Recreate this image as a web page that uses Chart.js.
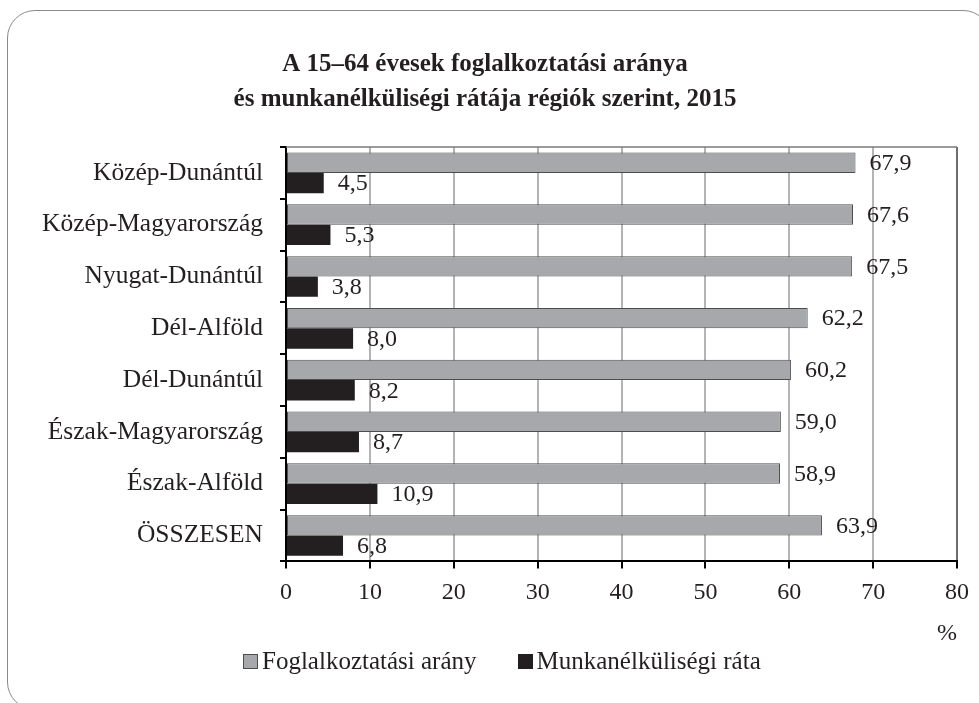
<!DOCTYPE html>
<html>
<head>
<meta charset="utf-8">
<script src="https://cdn.jsdelivr.net/npm/chart.js@4"></script>
<style>
  html, body { margin: 0; padding: 0; background: #fff; overflow: hidden; }
  #wrap { position: relative; width: 979px; height: 703px; }
  #frame {
    position: absolute; left: 7px; top: 10px; width: 984px; height: 700px;
    border: 1.5px solid #8a8a8a; border-radius: 28px; box-sizing: border-box;
  }
  #box { position: absolute; left: 0; top: 0; width: 979px; height: 703px; }
  #legend {
    position: absolute; left: 243px; top: 647px; display: flex;
    font: 25px "Liberation Serif", serif; color: #231f20;
  }
  .item { display: flex; align-items: center; }
  .swatch { width: 15px; height: 15px; margin-right: 4px; box-sizing: border-box; }
</style>
</head>
<body>
<div id="wrap">
  <div id="frame"></div>
  <div id="box"><canvas id="chart"></canvas></div>
  <div id="legend"></div>
</div>
<script>
document.addEventListener("DOMContentLoaded", function () {
  // regions, top to bottom
  const regions = [
    'Közép-Dunántúl',
    'Közép-Magyarország',
    'Nyugat-Dunántúl',
    'Dél-Alföld',
    'Dél-Dunántúl',
    'Észak-Magyarország',
    'Észak-Alföld',
    'ÖSSZESEN'
  ];
  const employmentRate = [67.9, 67.6, 67.5, 62.2, 60.2, 59.0, 58.9, 63.9];
  const unemploymentRate = [4.5, 5.3, 3.8, 8.0, 8.2, 8.7, 10.9, 6.8];
  const seriesNames = ['Foglalkoztatási arány', 'Munkanélküliségi ráta'];
  const xTicks = [0, 10, 20, 30, 40, 50, 60, 70, 80];

  const serif = '"Liberation Serif", "Times New Roman", serif';
  const ink = '#231f20';
  const grayFill = '#a7a8ab';
  const grayEdge = '#4d4d4d';

  // value labels next to the bar ends, decimal comma
  const valueLabels = {
    id: 'valueLabels',
    afterDatasetsDraw(chart) {
      const ctx = chart.ctx;
      ctx.save();
      ctx.font = '24px ' + serif;
      ctx.fillStyle = ink;
      ctx.textAlign = 'left';
      ctx.textBaseline = 'middle';
      chart.data.datasets.forEach((ds, i) => {
        chart.getDatasetMeta(i).data.forEach((bar, j) => {
          const txt = ds.data[j].toFixed(1).replace('.', ',');
          ctx.fillText(txt, bar.x + 14, bar.y + 1);
        });
      });
      ctx.restore();
    }
  };

  // top edge of the plot frame
  const plotFrame = {
    id: 'plotFrame',
    beforeDatasetsDraw(chart) {
      const a = chart.chartArea;
      const ctx = chart.ctx;
      ctx.save();
      ctx.strokeStyle = '#7a7a7a';
      ctx.lineWidth = 1.5;
      ctx.beginPath();
      ctx.moveTo(a.left, a.top);
      ctx.lineTo(a.right, a.top);
      ctx.stroke();
      ctx.restore();
    }
  };

  const ctx = document.getElementById('chart').getContext('2d');
  new Chart(ctx, {
    type: 'bar',
    data: {
      labels: regions,
      datasets: [
        {
          label: seriesNames[0],
          data: employmentRate,
          backgroundColor: grayFill,
          borderColor: grayEdge,
          borderWidth: 1,
          borderSkipped: false,
          categoryPercentage: 0.785,
          barPercentage: 1
        },
        {
          label: seriesNames[1],
          data: unemploymentRate,
          backgroundColor: ink,
          borderWidth: 0,
          categoryPercentage: 0.785,
          barPercentage: 1
        }
      ]
    },
    options: {
      indexAxis: 'y',
      responsive: true,
      maintainAspectRatio: false,
      animation: false,
      layout: { padding: { left: 12, right: 21, top: 0, bottom: 55 } },
      plugins: {
        legend: { display: false },
        tooltip: { enabled: false },
        title: {
          display: true,
          text: ['A 15–64 évesek foglalkoztatási aránya', 'és munkanélküliségi rátája régiók szerint, 2015'],
          color: ink,
          font: { family: serif, size: 25, weight: 'bold', lineHeight: 1.4 },
          padding: { top: 47, bottom: 30 }
        }
      },
      scales: {
        x: {
          min: 0,
          max: 80,
          afterBuildTicks(scale) { scale.ticks = xTicks.map(v => ({ value: v })); },
          ticks: {
            color: ink,
            font: { family: serif, size: 24 },
            padding: 10
          },
          grid: {
            color: (c) => c.index === xTicks.length - 1 ? '#6e6e6e' : '#b4b4b4',
            lineWidth: 2,
            tickColor: '#000',
            tickLength: 7
          },
          border: { color: '#000', width: 2 },
          title: {
            display: true,
            text: '%',
            align: 'end',
            color: ink,
            font: { family: serif, size: 24 },
            padding: { top: 2, bottom: 0 }
          }
        },
        y: {
          afterFit(scale) { scale.width = 274; },
          ticks: {
            color: ink,
            font: { family: serif, size: 25.5 },
            padding: 17
          },
          grid: {
            drawOnChartArea: false,
            tickColor: '#000',
            tickLength: 6,
            lineWidth: 2
          },
          border: { color: '#000', width: 2 }
        }
      }
    },
    plugins: [plotFrame, valueLabels]
  });

  // legend below the chart
  const legend = document.getElementById('legend');
  const swatches = [
    { bg: grayFill, border: '1px solid ' + grayEdge },
    { bg: ink, border: 'none' }
  ];
  seriesNames.forEach((name, i) => {
    const item = document.createElement('div');
    item.className = 'item';
    if (i > 0) item.style.marginLeft = '41px';
    const sw = document.createElement('span');
    sw.className = 'swatch';
    sw.style.background = swatches[i].bg;
    sw.style.border = swatches[i].border;
    item.appendChild(sw);
    const t = document.createElement('span');
    t.textContent = name;
    item.appendChild(t);
    legend.appendChild(item);
  });
});
</script>
</body>
</html>
